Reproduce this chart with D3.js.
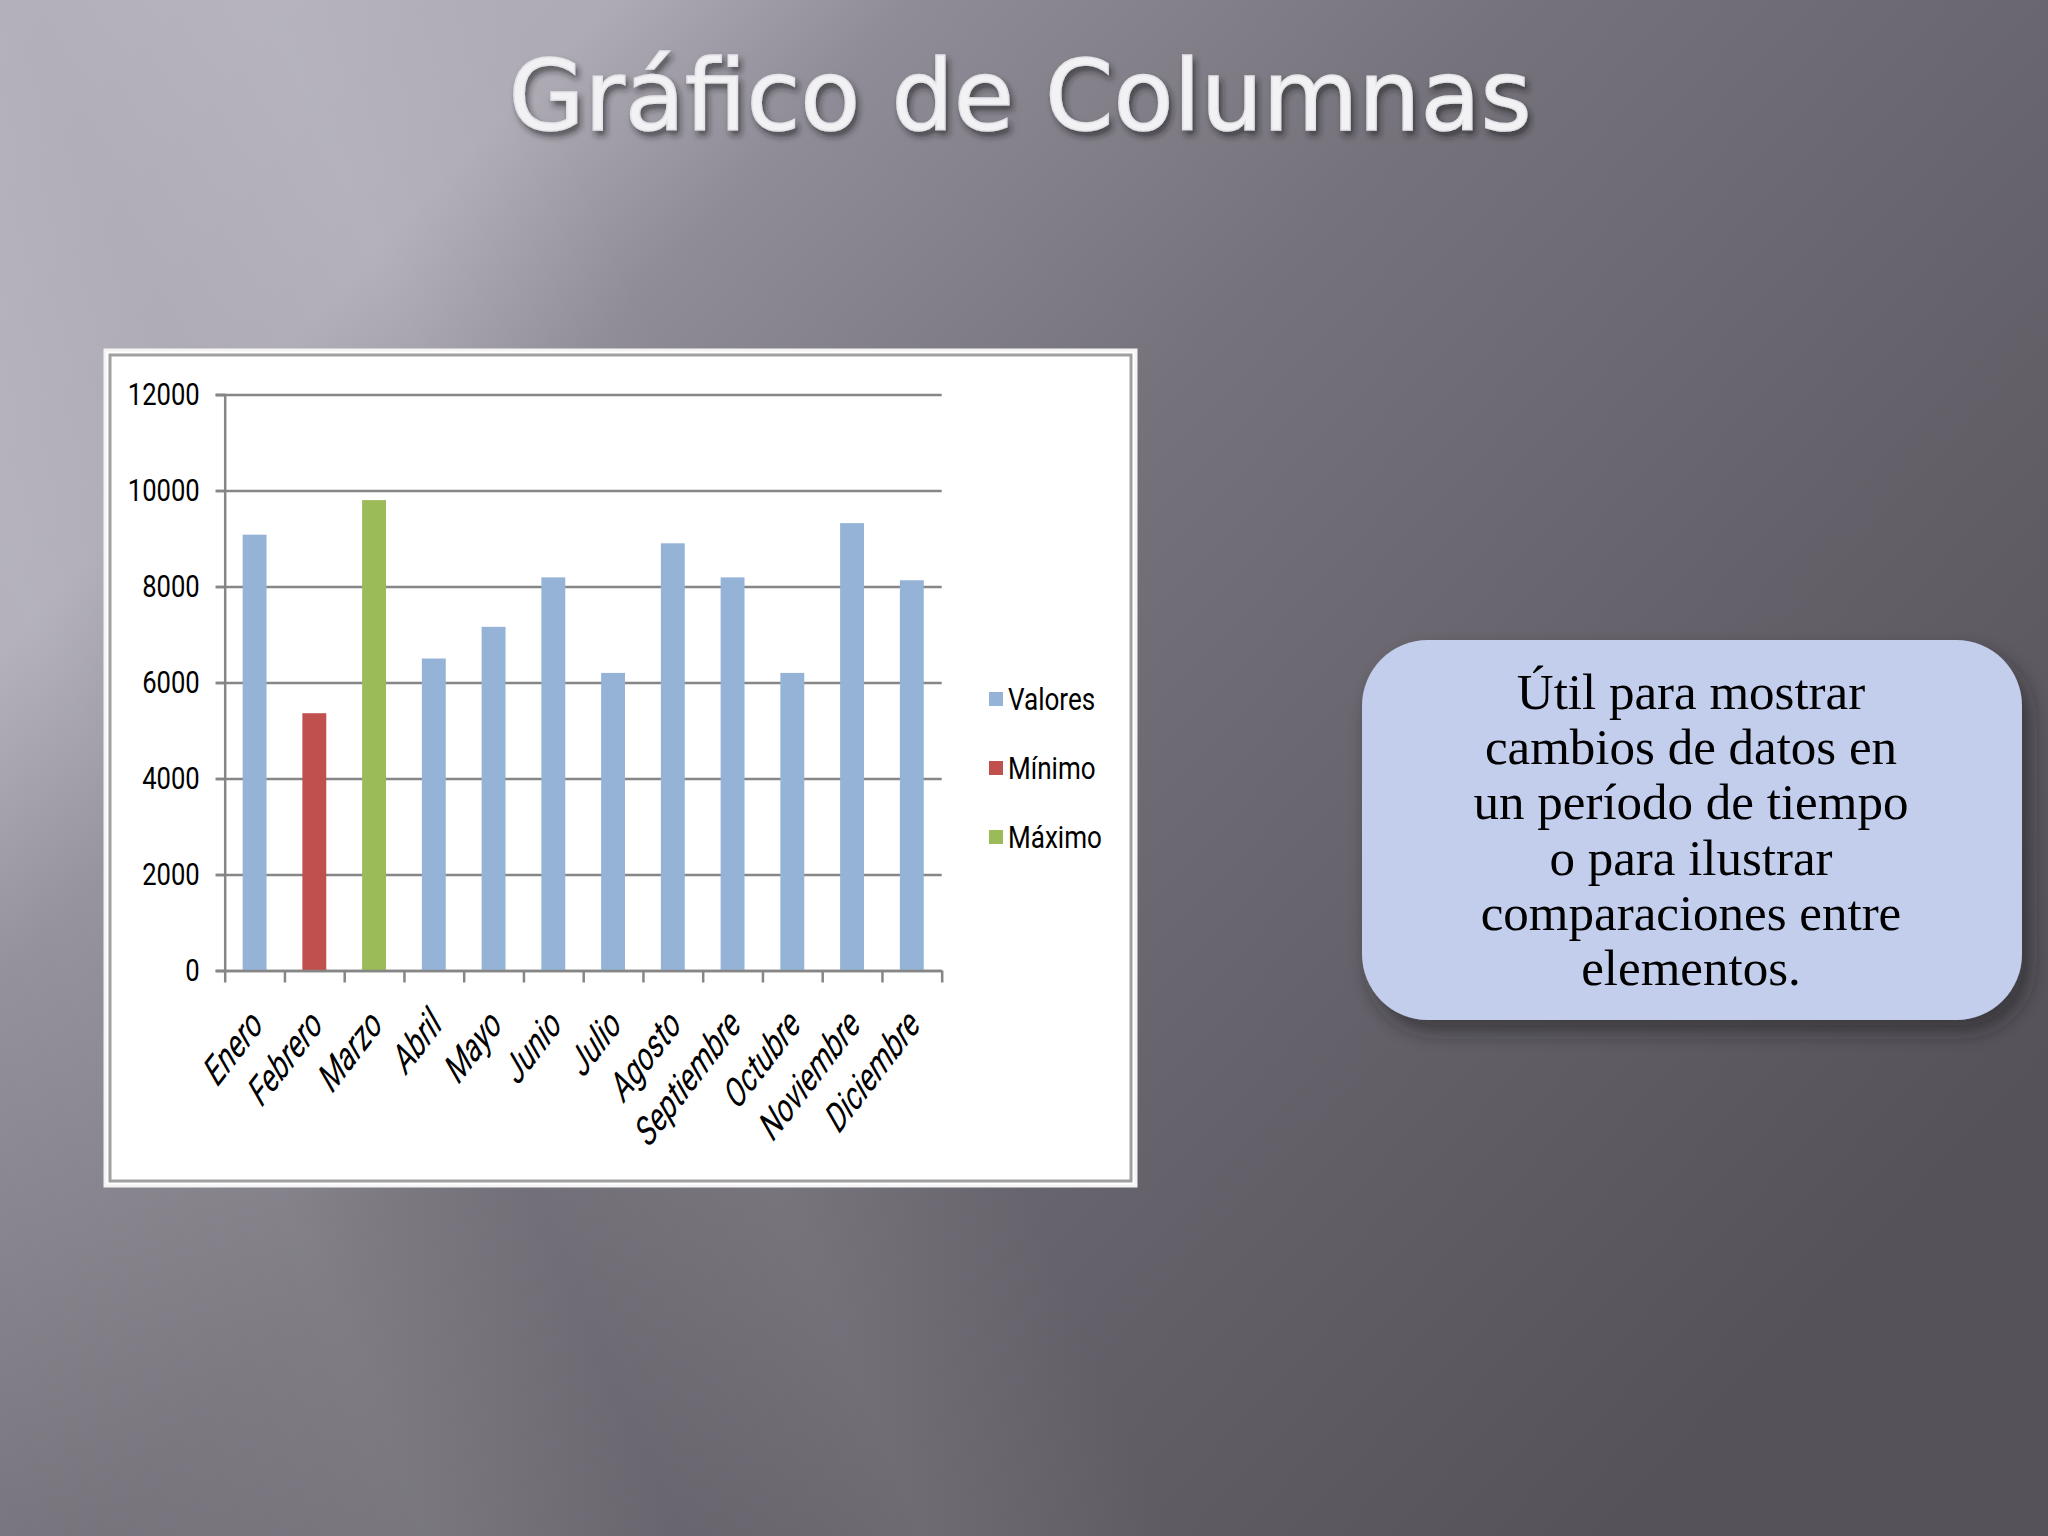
<!DOCTYPE html>
<html>
<head>
<meta charset="utf-8">
<script src="https://cdn.jsdelivr.net/npm/d3@7"></script>
<style>
  body { margin: 0; background: #5a5760; }
  svg { display: block; }
</style>
</head>
<body>
<svg id="slide" width="2048" height="1536"></svg>
<script>
const months = ['Enero', 'Febrero', 'Marzo', 'Abril', 'Mayo', 'Junio',
                'Julio', 'Agosto', 'Septiembre', 'Octubre', 'Noviembre', 'Diciembre']
const values = [9080, 5360, 9800, 6500, 7160, 8190, 6200, 8900, 8190, 6200, 9320, 8130]
const seriesNames = ['Valores', 'Mínimo', 'Máximo']
const seriesColors = ['#95b3d7', '#c0504d', '#9bbb59']
const yTicks = [0, 2000, 4000, 6000, 8000, 10000, 12000]
const titleText = 'Gráfico de Columnas'
const noteLines = ['Útil para mostrar', 'cambios de datos en', 'un período de tiempo',
                   'o para ilustrar', 'comparaciones entre', 'elementos.']

let svg = d3.select('#slide')
let defs = svg.append('defs')

//squeeze text a bit, the chart font is a narrow one
function narrow(sel, k) {
    sel.attr('textLength', function() { return this.getComputedTextLength() * k })
        .attr('lengthAdjust', 'spacingAndGlyphs')
}

//background gradient
let bg = defs.append('linearGradient')
    .attr('id', 'bg')
    .attr('x1', 0).attr('y1', 0)
    .attr('x2', 1).attr('y2', 0.7)
let bgStops = [[0, '#b3b0ba'], [0.2, '#aeabb5'], [0.3, '#8f8c97'], [0.5, '#75727b'], [0.75, '#64616a'], [1, '#55525a']]
bgStops.forEach(s => bg.append('stop').attr('offset', s[0]).attr('stop-color', s[1]))

let streak = defs.append('linearGradient')
    .attr('id', 'streak')
    .attr('gradientUnits', 'userSpaceOnUse')
    .attr('x1', 0).attr('y1', 1500)
    .attr('x2', 1400).attr('y2', 900)
let streakStops = [[0, 0], [0.25, 0.08], [0.4, 0], [0.55, 0.07], [0.7, 0]]
streakStops.forEach(s => streak.append('stop').attr('offset', s[0])
    .attr('stop-color', '#ffffff').attr('stop-opacity', s[1]))

let shadow = defs.append('filter').attr('id', 'shadow')
    .attr('x', '-10%').attr('y', '-20%').attr('width', '130%').attr('height', '150%')
shadow.append('feDropShadow')
    .attr('dx', 3).attr('dy', 5).attr('stdDeviation', 3)
    .attr('flood-color', '#202020').attr('flood-opacity', 0.6)

let boxShadow = defs.append('filter').attr('id', 'boxShadow')
    .attr('x', '-10%').attr('y', '-10%').attr('width', '130%').attr('height', '140%')
boxShadow.append('feDropShadow')
    .attr('dx', 8).attr('dy', 12).attr('stdDeviation', 10)
    .attr('flood-color', '#202020').attr('flood-opacity', 0.55)

svg.append('rect').attr('width', 2048).attr('height', 1536).attr('fill', 'url(#bg)')
svg.append('rect').attr('width', 2048).attr('height', 1536).attr('fill', 'url(#streak)')

//Title
svg.append('text')
    .attr('x', 1020)
    .attr('y', 130)
    .attr('text-anchor', 'middle')
    .style('font-family', '"DejaVu Sans", Verdana, sans-serif')
    .style('font-size', '98px')
    .style('fill', '#f2f2f4')
    .style('stroke', '#e4e4e8')
    .style('stroke-width', 1.5)
    .attr('filter', 'url(#shadow)')
    .text(titleText)

//chart frame
svg.append('rect')
    .attr('x', 105).attr('y', 350)
    .attr('width', 1031).attr('height', 836)
    .attr('fill', '#ffffff')
    .attr('stroke', '#f4f4f4')
    .attr('stroke-width', 3)
svg.append('rect')
    .attr('x', 110).attr('y', 355)
    .attr('width', 1021).attr('height', 826)
    .attr('fill', '#ffffff')
    .attr('stroke', '#a0a0a0')
    .attr('stroke-width', 3)

let plotLeft = 224.7, plotRight = 941.7, plotTop = 394.5, plotBottom = 970.5
let chart = svg.append('g')

let xScale = d3.scaleBand()
    .domain(months)
    .range([plotLeft, plotRight])
    .paddingInner(0.6)
    .paddingOuter(0.3)
let xEdges = d3.scaleLinear()
    .domain([0, months.length])
    .range([plotLeft, plotRight])
let yScale = d3.scaleLinear()
    .domain([0, 12000])
    .range([plotBottom, plotTop])

let minIdx = values.indexOf(d3.min(values))
let maxIdx = values.indexOf(d3.max(values))
function seriesOf(i) {
    return i === minIdx ? 1 : (i === maxIdx ? 2 : 0)
}

//gridlines
chart.append('g')
    .attr('transform', `translate(${plotLeft - 9}, 0)`)
    .call(d3.axisRight(yScale).tickValues(yTicks).tickSize(plotRight - plotLeft + 9).tickFormat(''))
    .call(g => g.select('.domain').remove())
    .call(g => g.selectAll('line').attr('stroke', '#868686').attr('stroke-width', 2.5))

//bars
chart.selectAll('.bar')
    .data(values)
    .enter()
    .append('rect')
    .attr('class', 'bar')
    .attr('x', (d, i) => xScale(months[i]))
    .attr('y', d => yScale(d))
    .attr('width', xScale.bandwidth())
    .attr('height', d => yScale(0) - yScale(d))
    .attr('fill', (d, i) => seriesColors[seriesOf(i)])

//y axis
chart.append('g')
    .attr('transform', `translate(${plotLeft}, 0)`)
    .call(d3.axisLeft(yScale).tickValues(yTicks).tickSize(9).tickPadding(16).tickFormat(d3.format('d')))
    .call(g => g.select('.domain').attr('stroke', '#868686').attr('stroke-width', 2.5))
    .call(g => g.selectAll('line').attr('stroke', '#868686').attr('stroke-width', 2.5))
    .call(g => g.selectAll('text')
        .style('font-family', 'Roboto, sans-serif')
        .style('font-size', '32px')
        .attr('fill', '#000')
        .call(narrow, 0.8))

//x axis
chart.append('g')
    .attr('transform', `translate(0, ${plotBottom})`)
    .call(d3.axisBottom(xEdges).tickValues(d3.range(months.length + 1)).tickSize(12).tickSizeOuter(0).tickFormat(''))
    .call(g => g.select('.domain').attr('stroke', '#868686').attr('stroke-width', 2.5))
    .call(g => g.selectAll('line').attr('stroke', '#868686').attr('stroke-width', 2.5))

//x labels
chart.selectAll('.xlabel')
    .data(months)
    .enter()
    .append('text')
    .attr('class', 'xlabel')
    .attr('transform', d => `translate(${xScale(d) + xScale.bandwidth() / 2 + 10}, ${plotBottom + 56}) scale(1, 1.3) rotate(-45)`)
    .attr('text-anchor', 'end')
    .style('font-family', 'Roboto, sans-serif')
    .style('font-style', 'italic')
    .style('font-size', '32px')
    .text(d => d)
    .call(narrow, 0.84)

//Legend
let legend = svg.append('g')
legend.selectAll('rect')
    .data(seriesNames)
    .enter()
    .append('rect')
    .attr('x', 989)
    .attr('y', (d, i) => 692 + i * 69)
    .attr('width', 14)
    .attr('height', 14)
    .attr('fill', (d, i) => seriesColors[i])
legend.selectAll('text')
    .data(seriesNames)
    .enter()
    .append('text')
    .attr('x', 1008)
    .attr('y', (d, i) => 699 + i * 69)
    .attr('dominant-baseline', 'central')
    .style('font-family', 'Roboto, sans-serif')
    .style('font-size', '31px')
    .text(d => d)
    .call(narrow, 0.84)

//note box
svg.append('rect')
    .attr('x', 1362).attr('y', 640)
    .attr('width', 660).attr('height', 380)
    .attr('rx', 66).attr('ry', 66)
    .attr('fill', '#c3cdec')
    .attr('filter', 'url(#boxShadow)')
svg.append('g')
    .selectAll('text')
    .data(noteLines)
    .enter()
    .append('text')
    .attr('x', 1691)
    .attr('y', (d, i) => 692 + i * 55.3)
    .attr('dy', '0.33em')
    .attr('text-anchor', 'middle')
    .style('font-family', '"Liberation Serif", "Times New Roman", serif')
    .style('font-size', '51px')
    .style('fill', '#000')
    .text(d => d)
</script>
</body>
</html>
